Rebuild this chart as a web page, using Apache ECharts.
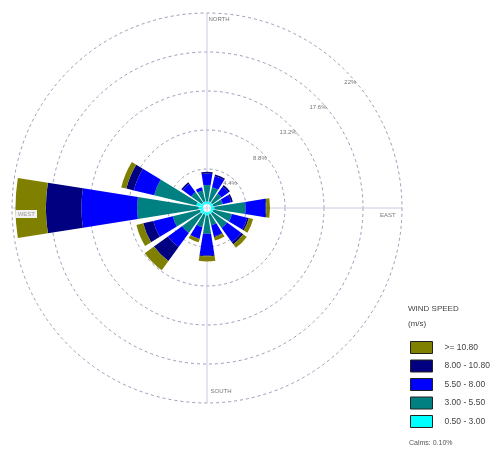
<!DOCTYPE html>
<html>
<head>
<meta charset="utf-8">
<script src="https://cdn.jsdelivr.net/npm/echarts@6/dist/echarts.min.js"></script>
<style>html,body{margin:0;padding:0;background:#fff}#c{width:497px;height:450px}</style>
</head>
<body>
<div id="c"></div>
<script>
// Directions (clockwise from north)
var directions = ['N','NNE','NE','ENE','E','ESE','SE','SSE','S','SSW','SW','WSW','W','WNW','NW','NNW'];
// Frequency (%) per speed class and direction
var class1 = [0.3,0.3,0.3,0.3,0.4,0.3,0.3,0.3,0.4,0.3,0.4,0.4,0.5,0.8,0.3,0.3];   // 0.50 - 3.00
var class2 = [1.9,1.7,1.3,1.1,3.6,2.2,2.1,1.3,2.1,1.5,2.7,3.2,7.1,5.0,1.5,1.3];   // 3.00 - 5.50
var class3 = [1.3,1.3,1.0,1.0,2.3,1.8,2.0,1.3,2.5,1.4,2.0,2.3,6.4,2.4,1.2,0.4];   // 5.50 - 8.00
var class4 = [0.2,0.2,0.2,0.2,0.1,0.2,0.3,0.1,0.1,0.0,2.0,1.2,4.1,0.9,0.2,0.0];   // 8.00 - 10.80
var class5 = [0.0,0.0,0.0,0.0,0.4,0.5,0.5,0.4,0.6,0.4,1.3,0.8,3.5,0.6,0.0,0.0];   // >= 10.80
var classNames = ['0.50 - 3.00','3.00 - 5.50','5.50 - 8.00','8.00 - 10.80','>= 10.80'];
var compassLabels = ['NORTH','EAST','SOUTH','WEST'];
var ringMax = 22;
var ringStep = 4.4;
var calmsText = 'Calms: 0.10%';

var colors = ['#00ffff','#008080','#0000ff','#000080','#808000'];
var seriesData = [class1,class2,class3,class4,class5];
var FONT = 'Liberation Sans, Arial, sans-serif';
var C = [207,208];

var chart = echarts.init(document.getElementById('c'), null, {renderer:'canvas'});

var series = seriesData.map(function(d,i){
  return {
    type:'bar', name: classNames[i], coordinateSystem:'polar', polarIndex:0,
    stack:'wind', data:d, barCategoryGap:'20%',
    itemStyle:{color:colors[i]}, z:3, animation:false
  };
});

var base = {fontSize:6, color:'#777', fontFamily:FONT};
var rich = {
  n:Object.assign({padding:[0,0,16,24]}, base),
  e:Object.assign({padding:[14,0,0,3]}, base),
  s:Object.assign({padding:[10,0,0,28]}, base),
  sp:{width:0, height:20},
  w:Object.assign({}, base, {color:'#999', backgroundColor:'#f2f2f2', verticalAlign:'bottom', padding:[1,2]})
};
var keys = ['n','e','s','w'];

chart.setOption({
  animation:false,
  polar:[
    {center:C, radius:[4,195]},
    {center:C, radius:195},
    {center:C, radius:195},
    {center:C, radius:195}
  ],
  angleAxis:[
    {polarIndex:0, type:'category', data:directions, startAngle:101.25, clockwise:true,
     axisLine:{show:false}, axisTick:{show:false}, axisLabel:{show:false}, splitLine:{show:false}},
    {polarIndex:1, type:'value', min:0, max:360, interval:90, startAngle:90, clockwise:true,
     axisLine:{show:false}, axisTick:{show:false}, axisLabel:{show:false},
     splitLine:{show:true, lineStyle:{color:'#c8c8e4', width:1}}},
    {polarIndex:2, type:'value', min:0, max:360, interval:90, startAngle:40,
     axisLine:{show:false}, axisTick:{show:false}, axisLabel:{show:false}, splitLine:{show:false}},
    {polarIndex:3, type:'value', min:0, max:360, interval:90, startAngle:90, clockwise:true, z:10,
     axisLine:{show:false}, axisTick:{show:false}, splitLine:{show:false},
     axisLabel:{show:true, margin:-25,
       formatter:function(v){var k=Math.round(v/90); if(k>=4) return ''; return k===3 ? '{sp|}{w|'+compassLabels[k]+'}' : '{'+keys[k]+'|'+compassLabels[k]+'}';},
       rich:rich}}
  ],
  radiusAxis:[
    {polarIndex:0, type:'value', min:0, max:ringMax, show:false,
     axisLine:{show:false}, axisTick:{show:false}, axisLabel:{show:false}, splitLine:{show:false}},
    {polarIndex:1, type:'value', min:0, max:ringMax, interval:ringStep,
     axisLine:{show:false}, axisTick:{show:false}, axisLabel:{show:false},
     splitLine:{show:true, lineStyle:{color:'#9a9ab8', type:[3,3], width:1}}},
    {polarIndex:2, type:'value', min:0, max:ringMax, interval:ringStep, z:10,
     axisLine:{show:false}, axisTick:{show:false}, splitLine:{show:false},
     axisLabel:{show:true, fontSize:6, color:'#777', fontFamily:FONT, margin:0,
       formatter:function(v){ if(v<=0) return ''; return (Math.round(v*10)/10)+'%'; }}},
    {polarIndex:3, type:'value', min:0, max:ringMax, show:false,
     axisLine:{show:false}, axisTick:{show:false}, axisLabel:{show:false}, splitLine:{show:false}}
  ],
  title:[
    {text:'WIND SPEED', left:408, top:305, padding:0, textStyle:{fontSize:8, fontWeight:'normal', color:'#444', fontFamily:FONT}},
    {text:'(m/s)', left:408, top:320, padding:0, textStyle:{fontSize:8, fontWeight:'normal', color:'#444', fontFamily:FONT}},
    {text:calmsText, left:409, top:440, padding:0, textStyle:{fontSize:7, fontWeight:'normal', color:'#555', fontFamily:FONT}}
  ],
  legend:{
    orient:'vertical', left:410, top:341, padding:0,
    itemWidth:22, itemHeight:12, itemGap:5.5,
    data:classNames.slice().reverse(),
    icon:'rect', selectedMode:false,
    itemStyle:{borderColor:'#222', borderWidth:1},
    textStyle:{fontSize:8.5, color:'#444', fontFamily:FONT, padding:[0,0,0,7]}
  },
  series:series
});
</script>
</body>
</html>
